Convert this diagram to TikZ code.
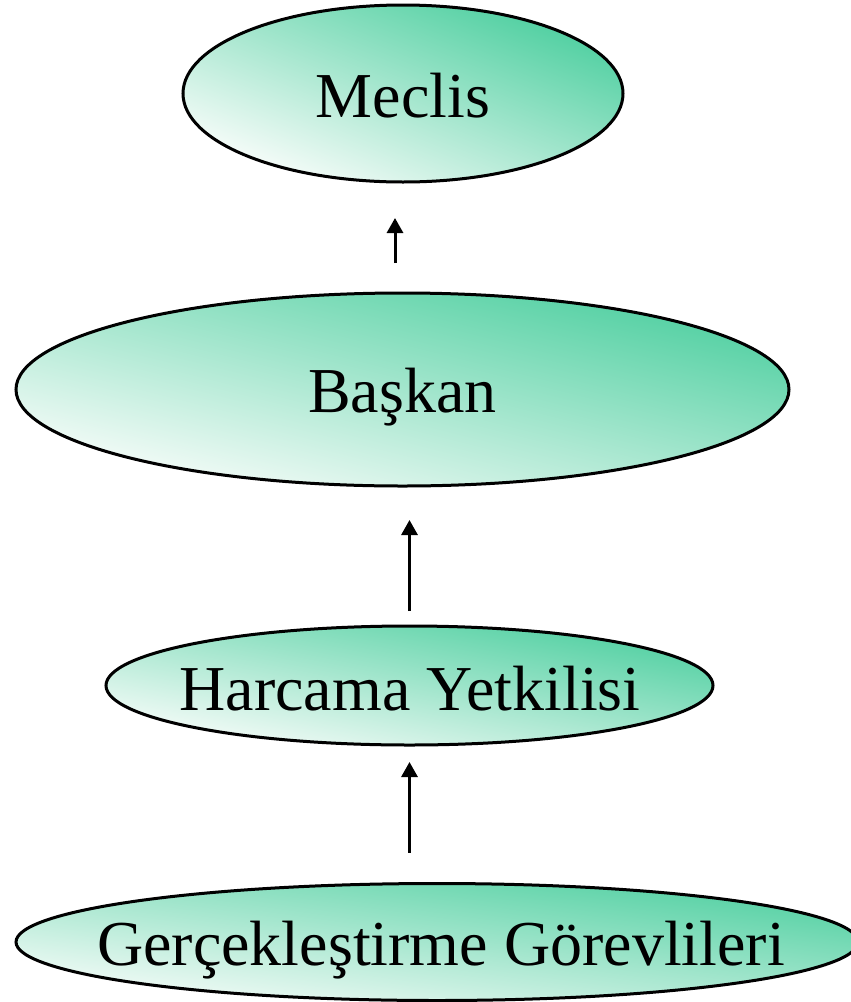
\documentclass[tikz,border=0pt]{standalone}
\usepackage{fontspec}
\setmainfont{Liberation Serif}
\usetikzlibrary{arrows.meta,shapes.geometric}
\definecolor{ovalgreen}{RGB}{78,207,160}
\definecolor{ovalwhite}{RGB}{250,253,251}
\tikzset{
  oval/.style={ellipse, draw=black, line width=3pt, inner sep=0pt, outer sep=0pt,
    top color=ovalgreen, bottom color=ovalwhite},
  caption/.style={anchor=base, inner sep=0pt, font=\fontsize{64}{72}\selectfont},
  conn/.style={line width=3pt, -{Triangle[width=16pt,length=15pt]}}
}
\begin{document}
\begin{tikzpicture}[x=1pt, y=-1pt]
\useasboundingbox (0,0) rectangle (851,1002);

% the four levels, top to bottom; the shading runs corner to corner of each oval
\node[oval, minimum width=440pt, minimum height=177pt, shading angle=-21.9] (meclis) at (403,93.5) {};
\node[caption] (meclisText) at (403,117) {Meclis};

\node[oval, minimum width=773pt, minimum height=193pt, shading angle=-14] (baskan) at (402.5,389.5) {};
\node[caption] (baskanText) at (402.5,412) {Başkan};

\node[oval, minimum width=607pt, minimum height=119pt, shading angle=-11.1] (harcama) at (409.5,685.5) {};
\node[caption] (harcamaText) at (410,710) {Harcama Yetkilisi};

\node[oval, minimum width=842pt, minimum height=117pt, shading angle=-7.9] (gercek) at (437,942) {};
\node[caption] (gercekText) at (441,965) {Gerçekleştirme Görevlileri};

% upward arrows between the levels
\draw[conn, shorten <=30pt, shorten >=36pt]
  ([xshift=-8pt]meclis.south |- baskan.north) -- ([xshift=-8pt]meclis.south);
\draw[conn, shorten <=15pt, shorten >=34pt]
  (harcama.north) -- (harcama.north |- baskan.south);
\draw[conn, shorten <=31pt, shorten >=17pt]
  (harcama.south |- gercek.north) -- (harcama.south);
\end{tikzpicture}
\end{document}
